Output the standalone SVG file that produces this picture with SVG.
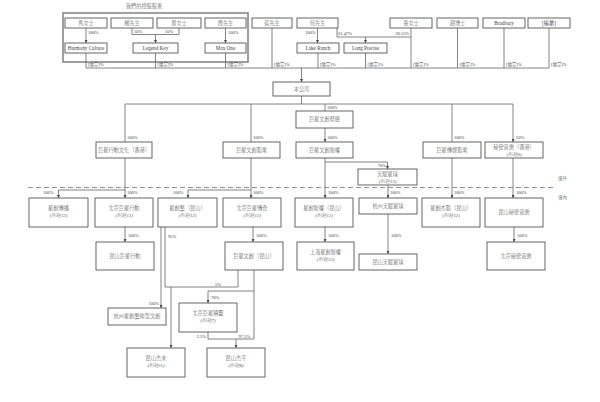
<svg xmlns="http://www.w3.org/2000/svg" width="600" height="402" viewBox="0 0 600 402">
<defs>
<marker id="ah" viewBox="0 0 6 6" refX="6" refY="3" markerWidth="3" markerHeight="3" orient="auto" markerUnits="userSpaceOnUse">
<path d="M0,0 L6,3 L0,6 z" fill="#444"/>
</marker>
<style>
.b{fill:#fff;stroke:#555;stroke-width:0.9}
.t{font-family:"Liberation Serif","Noto Sans CJK TC",serif;font-size:5.2px;fill:#444;text-anchor:middle;font-weight:300}
.n{font-family:"Liberation Serif","Noto Sans CJK TC",serif;font-size:4.8px;fill:#555;text-anchor:middle;font-style:italic;font-weight:300}
.p{font-family:"Liberation Serif","Noto Sans CJK TC",serif;font-size:4.5px;fill:#444;font-weight:300}
.e{text-anchor:end}
.l{fill:none;stroke:#666;stroke-width:0.8}
.a{fill:none;stroke:#666;stroke-width:0.8;marker-end:url(#ah)}
</style>
</defs>
<rect width="600" height="402" fill="#fff"/>
<text class="t" x="144" y="8">我們的控股股東</text>
<rect x="63" y="13" width="185" height="49" fill="none" stroke="#888" stroke-width="1.6"/>

<g id="connectors">
<path class="a" d="M86,28 V43"/>
<path class="l" d="M132,28 V34.5 H179 V28"/>
<path class="a" d="M155.5,34.5 V43"/>
<path class="a" d="M225.5,28 V43"/>
<path class="a" d="M317.5,28 V43"/>
<path class="l" d="M337,28 V37 H411"/>
<path class="a" d="M365.5,37 V43"/>
<path class="l" d="M86,53 V68 M155.5,53 V68 M225.5,53 V68 M272,28 V68 M318,53 V68 M365.5,53 V68 M411,28 V68 M457.5,28 V68 M504,28 V68 M549,28 V68"/>
<path class="l" d="M86,68 H549"/>
<path class="a" d="M301.5,68 V82"/>
<path class="l" d="M301.5,96 V104 M125,104 H513"/>
<path class="a" d="M125,104 V142 M251,104 V142 M325,104 V111 M452,104 V142 M513,104 V142"/>
<path class="a" d="M325,128 V142"/>
<path class="a" d="M325,158 V198"/>
<path class="l" d="M325,162 H387.5"/>
<path class="a" d="M387.5,162 V169"/>
<path class="a" d="M125,158 V198"/>
<path class="l" d="M125,190 H58.5"/>
<path class="a" d="M58.5,190 V198"/>
<path class="a" d="M251,158 V198"/>
<path class="l" d="M251,190 H188"/>
<path class="a" d="M188,190 V198"/>
<path class="a" d="M388,185 V198"/>
<path class="a" d="M452,158 V198"/>
<path class="a" d="M513,158 V198"/>
<path class="a" d="M125,227 V242"/>
<path class="a" d="M253,227 V242"/>
<path class="a" d="M325,227 V242"/>
<path class="a" d="M388,214 V254"/>
<path class="a" d="M514,227 V242"/>
<path class="a" d="M161,227 V308"/>
<path class="l" d="M165,227 V287 H238 V270"/>
<path class="a" d="M171,287 V348"/>
<path class="l" d="M254,270 V339"/>
<path class="l" d="M254,291 H208"/>
<path class="a" d="M208,291 V303"/>
<path class="l" d="M208,332 V339 H254"/>
<path class="a" d="M236,339 V348"/>
<path d="M28,187.5 H555" fill="none" stroke="#777" stroke-width="0.8" stroke-dasharray="5,3"/>
</g>

<g id="labels">
<text class="p" x="88" y="33.5">100%</text>
<text class="p" x="134" y="33">50%</text>
<text class="p" x="165" y="33">50%</text>
<text class="p" x="228" y="33.5">100%</text>
<text class="p e" x="315.5" y="33.5">100%</text>
<text class="p" x="338" y="35">61.47%</text>
<text class="p e" x="409" y="35">38.53%</text>
<text class="p" x="88" y="66">[編纂]%</text>
<text class="p" x="157.5" y="66">[編纂]%</text>
<text class="p" x="227.5" y="66">[編纂]%</text>
<text class="p" x="274" y="66">[編纂]%</text>
<text class="p" x="320" y="66">[編纂]%</text>
<text class="p" x="367.5" y="66">[編纂]%</text>
<text class="p" x="413" y="66">[編纂]%</text>
<text class="p" x="459.5" y="66">[編纂]%</text>
<text class="p" x="506" y="66">[編纂]%</text>
<text class="p" x="551" y="66">[編纂]%</text>
<text class="p" x="127" y="139">100%</text>
<text class="p" x="253" y="139">100%</text>
<text class="p" x="327" y="108.5">100%</text>
<text class="p" x="327" y="139">100%</text>
<text class="p" x="454" y="139">100%</text>
<text class="p" x="516" y="139">50%</text>
<text class="p e" x="386" y="166.5">70%</text>
<text class="p" x="43" y="194">100%</text>
<text class="p" x="127" y="194">100%</text>
<text class="p" x="173" y="194">100%</text>
<text class="p" x="253" y="194">100%</text>
<text class="p" x="328" y="194">100%</text>
<text class="p" x="390" y="194">100%</text>
<text class="p" x="454" y="194">100%</text>
<text class="p" x="516" y="194">100%</text>
<text class="p" x="128" y="237">100%</text>
<text class="p" x="168" y="238">95%</text>
<text class="p" x="256" y="237">100%</text>
<text class="p" x="328" y="237">100%</text>
<text class="p" x="391" y="237">100%</text>
<text class="p" x="517" y="237">100%</text>
<text class="p" x="215" y="285.5">5%</text>
<text class="p" x="211" y="299">70%</text>
<text class="p e" x="159" y="305">100%</text>
<text class="p e" x="206" y="337.5">2.5%</text>
<text class="p" x="238.5" y="337.5">97.5%</text>
<text class="p" x="558" y="180">境外</text>
<text class="p" x="558" y="199">境內</text>
</g>

<g id="n-ma"><rect class="b" x="65" y="18" width="42" height="10"/><text class="t" x="86" y="25">馬女士</text></g>
<g id="n-yang"><rect class="b" x="111" y="18" width="42" height="10"/><text class="t" x="132" y="25">楊先生</text></g>
<g id="n-ye"><rect class="b" x="157" y="18" width="44" height="10"/><text class="t" x="179" y="25">葉女士</text></g>
<g id="n-zhou"><rect class="b" x="205" y="18" width="41" height="10"/><text class="t" x="225.5" y="25">周先生</text></g>
<g id="n-cai"><rect class="b" x="252" y="18" width="40" height="10"/><text class="t" x="272" y="25">蔡先生</text></g>
<g id="n-he"><rect class="b" x="297" y="18" width="41" height="10"/><text class="t" x="317.5" y="25">何先生</text></g>
<g id="n-zhang"><rect class="b" x="390" y="18" width="42" height="10"/><text class="t" x="411" y="25">張女士</text></g>
<g id="n-dr"><rect class="b" x="437" y="18" width="41" height="10"/><text class="t" x="457.5" y="25">趙博士</text></g>
<g id="n-bradbury"><rect class="b" x="483" y="18" width="42" height="10"/><text class="t" x="504" y="25">Bradbury</text></g>
<g id="n-redacted"><rect class="b" x="528" y="18" width="42" height="10"/><text class="t" x="549" y="25">[編纂]</text></g>

<g id="n-harmony"><rect class="b" x="65" y="43" width="42" height="10"/><text class="t" x="86" y="50">Harmony Culture</text></g>
<g id="n-legend"><rect class="b" x="133" y="43" width="45" height="10"/><text class="t" x="155.5" y="50">Legend Key</text></g>
<g id="n-maxone"><rect class="b" x="205" y="43" width="41" height="10"/><text class="t" x="225.5" y="50">Max One</text></g>
<g id="n-lake"><rect class="b" x="297" y="43" width="42" height="10"/><text class="t" x="318" y="50">Lake Ranch</text></g>
<g id="n-long"><rect class="b" x="344" y="43" width="43" height="10"/><text class="t" x="365.5" y="50">Long Precise</text></g>

<g id="n-company"><rect class="b" x="273" y="82" width="57" height="14"/><text class="t" x="301.5" y="91">本公司</text></g>

<g id="n-l2a"><rect class="b" x="96" y="142" width="56" height="16"/><text class="t" x="124" y="151.5">巨星行動文化（香港）</text></g>
<g id="n-l2b"><rect class="b" x="223" y="142" width="57" height="16"/><text class="t" x="251.5" y="151.5">巨星文創影業</text></g>
<g id="n-l2c"><rect class="b" x="296" y="111" width="57" height="17"/><text class="t" x="324.5" y="121">巨星文創發展</text></g>
<g id="n-l2d"><rect class="b" x="296" y="142" width="57" height="16"/><text class="t" x="324.5" y="151.5">巨星文創智權</text></g>
<g id="n-l2e"><rect class="b" x="423" y="142" width="58" height="16"/><text class="t" x="452" y="151.5">巨星傳媒影業</text></g>
<g id="n-l2f"><rect class="b" x="485" y="142" width="58" height="16"/><text class="t" x="514" y="149">秘密音樂（香港）</text><text class="n" x="514" y="155.5">(附註6)</text></g>
<g id="n-tianfu"><rect class="b" x="358" y="169" width="59" height="16"/><text class="t" x="387.5" y="176">天賦星球</text><text class="n" x="387.5" y="182.5">(附註13)</text></g>

<g id="n-l3a"><rect class="b" x="29" y="198" width="59" height="29"/><text class="t" x="58.5" y="210">星創傳播</text><text class="n" x="58.5" y="217">(附註12)</text></g>
<g id="n-l3b"><rect class="b" x="95" y="198" width="58" height="29"/><text class="t" x="124" y="210">北京巨星行動</text><text class="n" x="124" y="217">(附註13)</text></g>
<g id="n-l3c"><rect class="b" x="158" y="198" width="59" height="29"/><text class="t" x="187.5" y="210">星創藝（昆山）</text><text class="n" x="187.5" y="217">(附註12)</text></g>
<g id="n-l3d"><rect class="b" x="223" y="198" width="58" height="29"/><text class="t" x="252" y="210">北京巨星傳奇</text><text class="n" x="252" y="217">(附註12)</text></g>
<g id="n-l3e"><rect class="b" x="295" y="198" width="58" height="29"/><text class="t" x="324" y="210">星創智權（昆山）</text><text class="n" x="324" y="217">(附註12)</text></g>
<g id="n-l3f"><rect class="b" x="359" y="198" width="58" height="16"/><text class="t" x="388" y="208">杭州天賦星球</text></g>
<g id="n-l3g"><rect class="b" x="422" y="198" width="58" height="29"/><text class="t" x="451" y="210">星創杰影（昆山）</text><text class="n" x="451" y="217">(附註12)</text></g>
<g id="n-l3h"><rect class="b" x="485" y="198" width="58" height="29"/><text class="t" x="514" y="214">昆山秘密音樂</text></g>

<g id="n-l4a"><rect class="b" x="96" y="242" width="58" height="28"/><text class="t" x="125" y="258">昆山巨星行動</text></g>
<g id="n-l4b"><rect class="b" x="225" y="242" width="58" height="28"/><text class="t" x="254" y="258">巨星文創（昆山）</text></g>
<g id="n-l4c"><rect class="b" x="297" y="242" width="57" height="28"/><text class="t" x="325.5" y="254">上海星創智權</text><text class="n" x="325.5" y="261">(附註12)</text></g>
<g id="n-l4d"><rect class="b" x="359" y="254" width="58" height="16"/><text class="t" x="388" y="264">昆山天賦星球</text></g>
<g id="n-l4e"><rect class="b" x="487" y="242" width="58" height="28"/><text class="t" x="516" y="258">北京秘密音樂</text></g>

<g id="n-l5a"><rect class="b" x="108" y="308" width="58" height="17"/><text class="t" x="137" y="318">杭州星創藝術型文創</text></g>
<g id="n-l5b"><rect class="b" x="179" y="303" width="58" height="29"/><text class="t" x="208" y="315">北京巨星精靈</text><text class="n" x="208" y="322">(附註7)</text></g>
<g id="n-l5c"><rect class="b" x="127" y="348" width="58" height="29"/><text class="t" x="156" y="360">昆山杰未</text><text class="n" x="156" y="367">(附註11)</text></g>
<g id="n-l5d"><rect class="b" x="207" y="348" width="58" height="29"/><text class="t" x="236" y="360">昆山杰平</text><text class="n" x="236" y="367">(附註8)</text></g>
</svg>
